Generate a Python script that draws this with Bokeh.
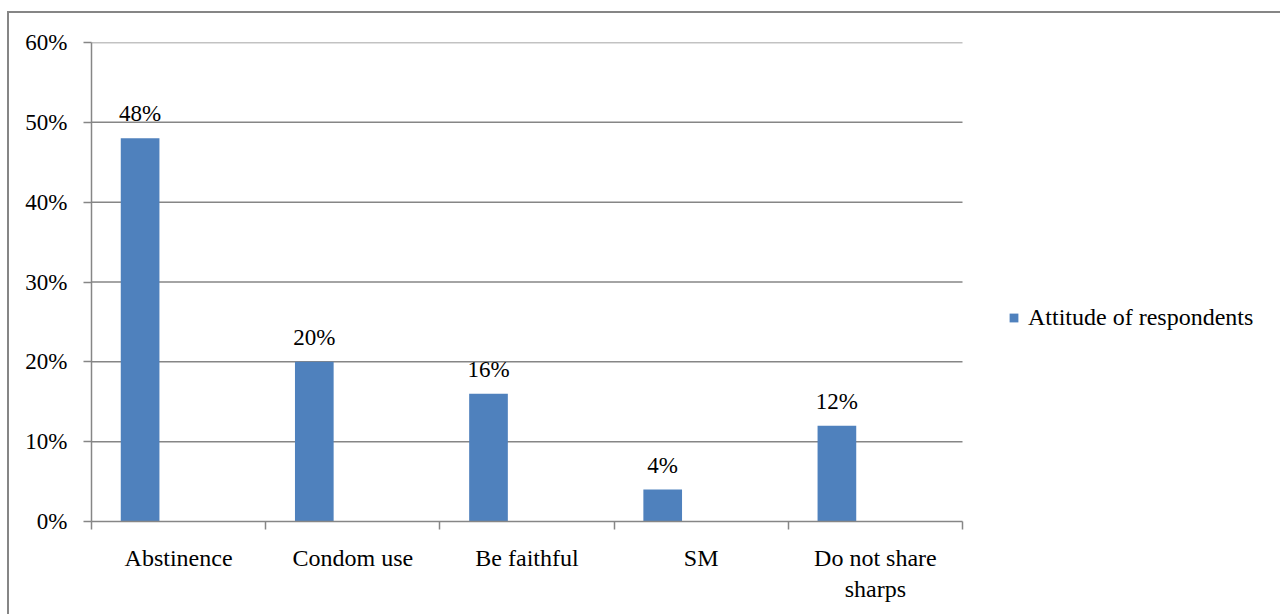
from bokeh.plotting import figure
from bokeh.models import (ColumnDataSource, FixedTicker, NumeralTickFormatter,
                          Legend, LegendItem, Range1d)
from bokeh.embed import file_html
from bokeh.resources import INLINE

# Data
categories = ["Abstinence", "Condom use", "Be faithful", "SM", "Do not share\nsharps"]
attitude = [0.48, 0.20, 0.16, 0.04, 0.12]
value_labels = ["48%", "20%", "16%", "4%", "12%"]
y_ticks = [0.0, 0.1, 0.2, 0.3, 0.4, 0.5, 0.6]
series_name = "Attitude of respondents"

FONT = "Liberation Serif"
FS = "23px"
FS_CAT = "24px"
GRAY = "#868686"
BAR = "#4F81BD"

n = len(categories)
CAT_PX = 174.2          # width of one category slot
FRAME_W = 1189          # frame runs to the right edge; legend lives in the spare room
x_end = FRAME_W / CAT_PX

xs = [i + 0.279 for i in range(n)]
src = ColumnDataSource(dict(x=xs, top=attitude, label=value_labels))

# chart area sits inside a thin grey frame (left and top edges visible)
p = figure(frame_width=FRAME_W, frame_height=479,
           output_backend="svg", toolbar_location=None,
           x_range=Range1d(0, x_end), y_range=Range1d(0, 0.6),
           min_border_left=82, min_border_right=0,
           min_border_top=29, min_border_bottom=95)
p.margin = (11, 0, 0, 7)
p.styles = {"border-left": f"2px solid {GRAY}", "border-top": f"2px solid {GRAY}"}
p.background_fill_color = "white"
p.border_fill_color = "white"
p.outline_line_color = None

# horizontal gridlines over the category span only
grid_src = ColumnDataSource(dict(y=y_ticks[1:]))
p.segment(x0=0, x1=n, y0="y", y1="y", source=grid_src,
          line_color=GRAY, line_width=1.5)

bars = p.vbar(x="x", top="top", width=0.222, bottom=0, source=src,
              fill_color=BAR, line_color=None)

p.text(x="x", y="top", text="label", source=src, text_align="center",
       text_baseline="bottom", y_offset=-12, text_font_size=FS,
       text_font={"value": FONT}, text_color="black")

# x axis: labels at category centres, short ticks at category boundaries
xa = p.xaxis[0]
xa.bounds = (0, n)
xa.ticker = FixedTicker(ticks=[i + 0.5 for i in range(n)],
                        minor_ticks=list(range(n + 1)))
xa.major_label_overrides = {i + 0.5: c for i, c in enumerate(categories)}
xa.major_tick_in = 0
xa.major_tick_out = 0
xa.minor_tick_in = 0
xa.minor_tick_out = 8
xa.minor_tick_line_color = GRAY
xa.minor_tick_line_width = 1.5
xa.axis_line_color = GRAY
xa.axis_line_width = 1.5
xa.major_label_standoff = 15
xa.major_label_text_font = FONT
xa.major_label_text_font_size = FS_CAT
xa.major_label_text_color = "black"

ya = p.yaxis[0]
ya.ticker = FixedTicker(ticks=y_ticks)
ya.formatter = NumeralTickFormatter(format="0%")
ya.major_tick_in = 0
ya.major_tick_out = 8
ya.minor_tick_line_color = None
ya.major_tick_line_color = GRAY
ya.major_tick_line_width = 1.5
ya.axis_line_color = GRAY
ya.axis_line_width = 1.5
ya.major_label_standoff = 16
ya.major_label_text_font = FONT
ya.major_label_text_font_size = FS
ya.major_label_text_color = "black"

p.xgrid.grid_line_color = None
p.ygrid.grid_line_color = None

legend = Legend(items=[LegendItem(label=series_name, renderers=[bars])],
                location=(917, 190), orientation="vertical",
                border_line_color=None, background_fill_alpha=0,
                padding=0, margin=0, spacing=0,
                glyph_width=11, glyph_height=11, label_standoff=9,
                label_text_font=FONT, label_text_font_size=FS_CAT,
                label_text_color="black")
p.add_layout(legend, "center")

open("out.html", "w").write(file_html(p, INLINE))
